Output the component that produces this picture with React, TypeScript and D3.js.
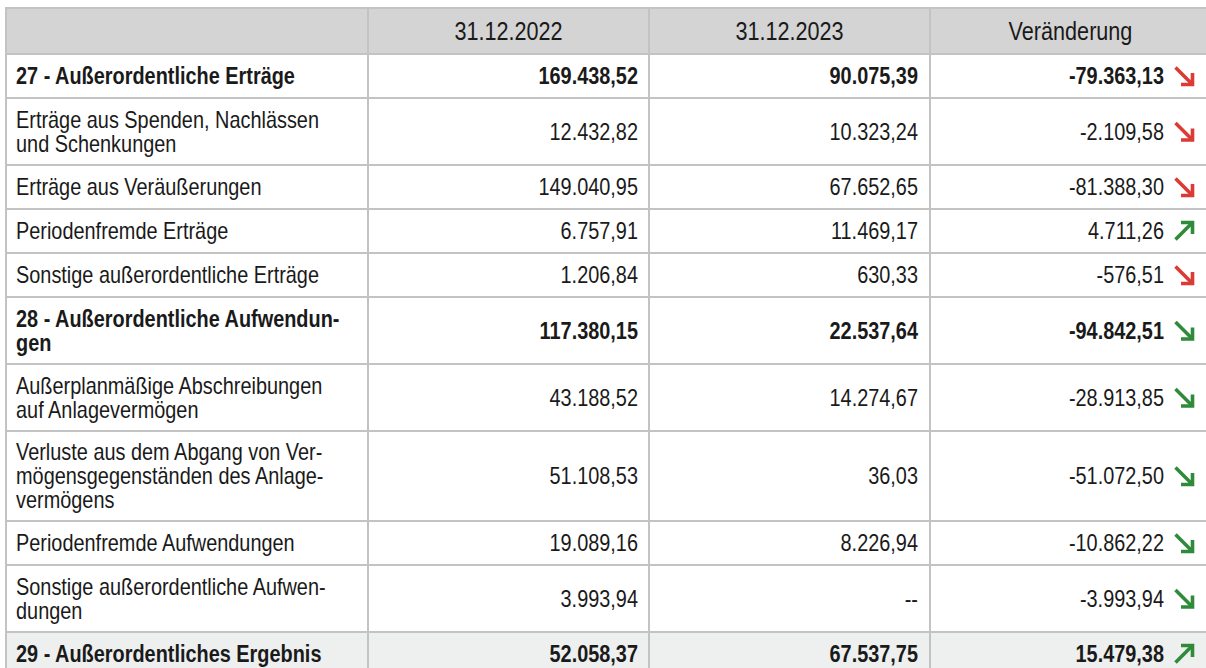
import React from "react";
import * as d3 from "d3";

const headers: string[] = ["", "31.12.2022", "31.12.2023", "Veränderung"];

const rowLabels: string[][] = [
  ["27 - Außerordentliche Erträge"],
  ["Erträge aus Spenden, Nachlässen", "und Schenkungen"],
  ["Erträge aus Veräußerungen"],
  ["Periodenfremde Erträge"],
  ["Sonstige außerordentliche Erträge"],
  ["28 - Außerordentliche Aufwendun-", "gen"],
  ["Außerplanmäßige Abschreibungen", "auf Anlagevermögen"],
  ["Verluste aus dem Abgang von Ver-", "mögensgegenständen des Anlage-", "vermögens"],
  ["Periodenfremde Aufwendungen"],
  ["Sonstige außerordentliche Aufwen-", "dungen"],
  ["29 - Außerordentliches Ergebnis"],
];

const values2022: (number | null)[] = [
  169438.52, 12432.82, 149040.95, 6757.91, 1206.84, 117380.15, 43188.52, 51108.53, 19089.16, 3993.94, 52058.37,
];
const values2023: (number | null)[] = [
  90075.39, 10323.24, 67652.65, 11469.17, 630.33, 22537.64, 14274.67, 36.03, 8226.94, null, 67537.75,
];
const changes: number[] = [
  -79363.13, -2109.58, -81388.3, 4711.26, -576.51, -94842.51, -28913.85, -51072.5, -10862.22, -3993.94, 15479.38,
];
const kinds: string[] = [
  "income", "income", "income", "income", "income",
  "expense", "expense", "expense", "expense", "expense",
  "result",
];
const boldRows: boolean[] = [true, false, false, false, false, true, false, false, false, false, true];

const locale = d3.formatLocale({ decimal: ",", thousands: ".", grouping: [3], currency: ["", " €"] });
const fmt = locale.format(",.2f");
const fmtVal = (v: number | null) => (v === null ? "--" : fmt(v).replace("−", "-"));

const W = 1206;
const H = 668;
const X0 = 6;
const Y0 = 8;
const colWidths = [362, 281, 281, 281];
const headerH = 46;
const lineH = 23;
const textLineH = 24;
const pad = 10.5;
const FONT = "'Liberation Sans', Arial, Helvetica, sans-serif";
const BORDER = "#c3c3c3";
const RED = "#db3b34";
const GREEN = "#2f8a3a";
const SX = 0.865;

function T({ x, y, anchor, children }: { x: number; y: number; anchor?: string; children: React.ReactNode }) {
  return (
    <text transform={`translate(${x},${y}) scale(${SX},1)`} dy="0.36em" textAnchor={anchor || "start"}>
      {children}
    </text>
  );
}

function Arrow({ x, y, up, color }: { x: number; y: number; up: boolean; color: string }) {
  const s = 8.5;
  const dy = up ? -1 : 1;
  const tipX = x + s;
  const tipY = y + dy * s;
  const tail = `M${x - s},${y - dy * s} L${tipX - 1.5},${tipY - dy * 1.5}`;
  const head = `M${tipX - 11.5},${tipY} L${tipX},${tipY} L${tipX},${tipY - dy * 11.5}`;
  return (
    <g stroke={color} fill="none" strokeWidth={3.6} strokeLinecap="butt" strokeLinejoin="miter">
      <path d={tail} />
      <path d={head} />
    </g>
  );
}

export default function App() {
  const heights = rowLabels.map((l) => 2 * pad + l.length * lineH);
  const rowTops = [0, ...d3.cumsum(heights)].map((v) => Y0 + headerH + v);
  const colX = [0, ...d3.cumsum(colWidths)].map((v) => X0 + v);
  const tableRight = colX[colX.length - 1];
  const tableBottom = rowTops[rowTops.length - 1];
  const fs = 23;

  return (
    <svg
      width={W}
      height={H}
      style={{ position: "absolute", left: 0, top: 0, background: "#fff" }}
      fontFamily={FONT}
    >
      <rect x={X0} y={Y0} width={tableRight - X0} height={headerH} fill="#d4d4d4" />
      {rowLabels.map((_, i) =>
        i === rowLabels.length - 1 ? (
          <rect key={"bg" + i} x={X0} y={rowTops[i]} width={tableRight - X0} height={heights[i]} fill="#eef0f0" />
        ) : null
      )}
      <g fontSize={25} fill="#1a1a1a">
        {headers.map((h, j) => (
          <T key={"h" + j} x={(colX[j] + colX[j + 1]) / 2} y={Y0 + headerH / 2} anchor="middle">
            {h}
          </T>
        ))}
      </g>
      {rowLabels.map((lines, i) => {
        const top = rowTops[i];
        const h = heights[i];
        const cy = top + h / 2;
        const weight = boldRows[i] ? 700 : 400;
        const ch = changes[i];
        const favorable = kinds[i] === "expense" ? ch < 0 : ch > 0;
        const color = favorable ? GREEN : RED;
        return (
          <g key={"r" + i} fontSize={fs} fontWeight={weight} fill="#1a1a1a">
            {lines.map((ln, k) => (
              <T key={k} x={X0 + 10} y={cy + (k - (lines.length - 1) / 2) * textLineH}>
                {ln}
              </T>
            ))}
            <T x={colX[2] - 11} y={cy} anchor="end">
              {fmtVal(values2022[i])}
            </T>
            <T x={colX[3] - 12} y={cy} anchor="end">
              {fmtVal(values2023[i])}
            </T>
            <T x={colX[3] + 234} y={cy} anchor="end">
              {fmtVal(ch)}
            </T>
            <Arrow x={colX[3] + 254} y={cy} up={ch > 0} color={color} />
          </g>
        );
      })}
      <g stroke={BORDER} strokeWidth={2}>
        {[Y0, Y0 + headerH, ...rowTops.slice(1)].map((y, i) => (
          <line key={"hl" + i} x1={X0 - 1} x2={tableRight + 1} y1={y} y2={y} />
        ))}
        {colX.map((x, i) => (
          <line key={"vl" + i} x1={x} x2={x} y1={Y0} y2={tableBottom} />
        ))}
      </g>
    </svg>
  );
}
